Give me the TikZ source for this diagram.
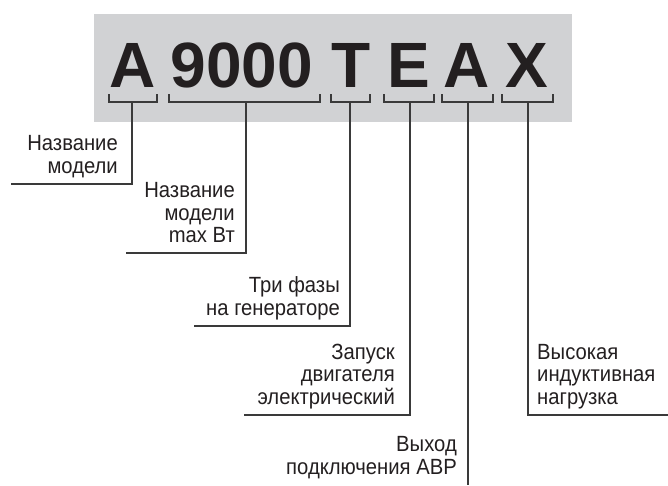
\documentclass[tikz,border=0pt]{standalone}
\usepackage{fontspec}
\setmainfont{Liberation Sans}
\newfontfamily\lblfont[FakeStretch=0.92]{Liberation Sans}
\definecolor{boxgray}{HTML}{D1D2D4}
\definecolor{textc}{HTML}{231F20}
\definecolor{linec}{HTML}{3A3A3A}
\begin{document}
\begin{tikzpicture}[x=1pt,y=-1pt,
  lbl/.style={font=\lblfont\fontsize{22}{22.5}\selectfont, text=textc, inner sep=0pt, execute at end node=\strut},
  big/.style={font=\fontsize{64}{64}\selectfont\bfseries, text=textc, inner sep=0pt, anchor=base},
  lead/.style={draw=linec, line width=1.3pt},
  brk/.style={draw=linec, line width=1.2pt}
]
\useasboundingbox (0,0) rectangle (668,485);
\fill[boxgray] (94,14) rectangle (572,122);
% code letters
\node[big] (cA)  at (133,87) {А};
\node[big] (c9)  at (242,87) {9000};
\node[big] (cT)  at (351,87) {Т};
\node[big] (cE)  at (409,87) {Е};
\node[big] (cA2) at (467,87) {А};
\node[big] (cX)  at (527,87) {Х};
% brackets
\draw[brk] (109,94) |- (157,102) -- (157,94);
\draw[brk] (169,94) |- (320,102) -- (320,94);
\draw[brk] (331,94) |- (370,102) -- (370,94);
\draw[brk] (384,94) |- (434,102) -- (434,94);
\draw[brk] (442,94) |- (493,102) -- (493,94);
\draw[brk] (502,94) |- (553,102) -- (553,94);
% stem starts
\coordinate (sA)  at (132,102);
\coordinate (s9)  at (246,102);
\coordinate (sT)  at (350,102);
\coordinate (sE)  at (410,102);
\coordinate (sA2) at (468,102);
\coordinate (sX)  at (528,102);
% leader ends
\coordinate (eA)  at (11,184);
\coordinate (e9)  at (126,253);
\coordinate (eT)  at (194,326);
\coordinate (eE)  at (244,415);
\coordinate (eA2) at (468,485);
\coordinate (eX)  at (668,415);
% labels
\node[lbl, anchor=south east, align=right] (tA)  at (118,180.25) {Название\\модели};
\node[lbl, anchor=south east, align=right] (t9)  at (235,249.75) {Название\\модели\\max Вт};
\node[lbl, anchor=south east, align=right] (tT)  at (340,322.25) {Три фазы\\на генераторе};
\node[lbl, anchor=south east, align=right] (tE)  at (395,411.25) {Запуск\\двигателя\\электрический};
\node[lbl, anchor=south east, align=right] (tA2) at (457,481.25) {Выход\\подключения АВР};
\node[lbl, anchor=south west, align=left]  (tX)  at (537,411.25) {Высокая\\индуктивная\\нагрузка};
% leaders
\draw[lead] (sA) |- (eA);
\draw[lead] (s9) |- (e9);
\draw[lead] (sT) |- (eT);
\draw[lead] (sE) |- (eE);
\draw[lead] (sA2) -- (eA2);
\draw[lead] (sX) |- (eX);
\end{tikzpicture}
\end{document}
